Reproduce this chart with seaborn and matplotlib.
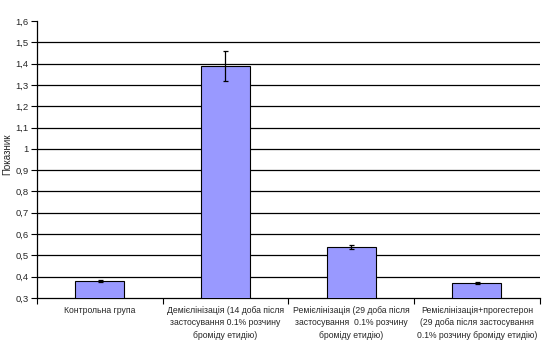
import matplotlib
matplotlib.use("Agg")
import matplotlib.pyplot as plt
import seaborn as sns
import pandas as pd
import numpy as np
from matplotlib.ticker import FixedLocator

categories = [
    "Контрольна група",
    "Демієлінізація (14 доба після\nзастосування 0.1% розчину\nброміду етидію)",
    "Ремієлінізація (29 доба після\nзастосування  0.1% розчину\nброміду етидію)",
    "Ремієлінізація+прогестерон\n(29 доба після застосування\n0.1% розчину броміду етидію)",
]
values = [0.38, 1.39, 0.54, 0.37]
errors = [0.006, 0.07, 0.008, 0.006]
yticks = [0.3, 0.4, 0.5, 0.6, 0.7, 0.8, 0.9, 1.0, 1.1, 1.2, 1.3, 1.4, 1.5, 1.6]
ytick_labels = ["0,3", "0,4", "0,5", "0,6", "0,7", "0,8", "0,9", "1", "1,1", "1,2", "1,3", "1,4", "1,5", "1,6"]

sns.set_theme(style="white")
plt.rcParams['font.family'] = ['Liberation Sans', 'DejaVu Sans']

fig = plt.figure(figsize=(5.42, 3.52), dpi=100)
ax = fig.add_axes([0.068, 0.1534, 0.928, 0.787])

df = pd.DataFrame({"cat": categories, "val": values})
sns.barplot(data=df, x="cat", y="val", ax=ax, color="#9999FF", saturation=1,
            width=0.39, edgecolor="black", linewidth=0.8, zorder=3)

xs = [p.get_x() + p.get_width() / 2 for p in ax.patches]
ax.errorbar(xs, values, yerr=errors, fmt="none", ecolor="black", elinewidth=0.9,
            capsize=1.8, capthick=0.9, zorder=4)

ax.set_ylim(0.3, 1.6)
ax.set_xlim(-0.5, 3.5)
ax.set_yticks(yticks)
ax.set_yticklabels(ytick_labels, fontsize=6.8)
for y in yticks[1:-1]:
    ax.axhline(y, color="black", linewidth=0.9, zorder=1)

ax.set_xticks(range(len(categories)))
ax.set_xticklabels(categories, fontsize=6.2, linespacing=1.45)
ax.tick_params(axis="x", which="major", length=0, pad=6)
ax.xaxis.set_minor_locator(FixedLocator([-0.5, 0.5, 1.5, 2.5, 3.5]))
ax.tick_params(axis="x", which="minor", length=4, width=0.8, color="black", direction="out", bottom=True)
ax.tick_params(axis="y", which="major", length=4, width=0.8, color="black", direction="out", left=True, pad=2)

ax.set_xlabel("")
ax.set_ylabel("Показник", fontsize=7, labelpad=3)
ax.yaxis.set_label_coords(-0.049, 0.52)

for s in ["top", "right"]:
    ax.spines[s].set_visible(False)
for s in ["left", "bottom"]:
    ax.spines[s].set_color("black")
    ax.spines[s].set_linewidth(0.9)

fig.savefig("out.png", dpi=100)
